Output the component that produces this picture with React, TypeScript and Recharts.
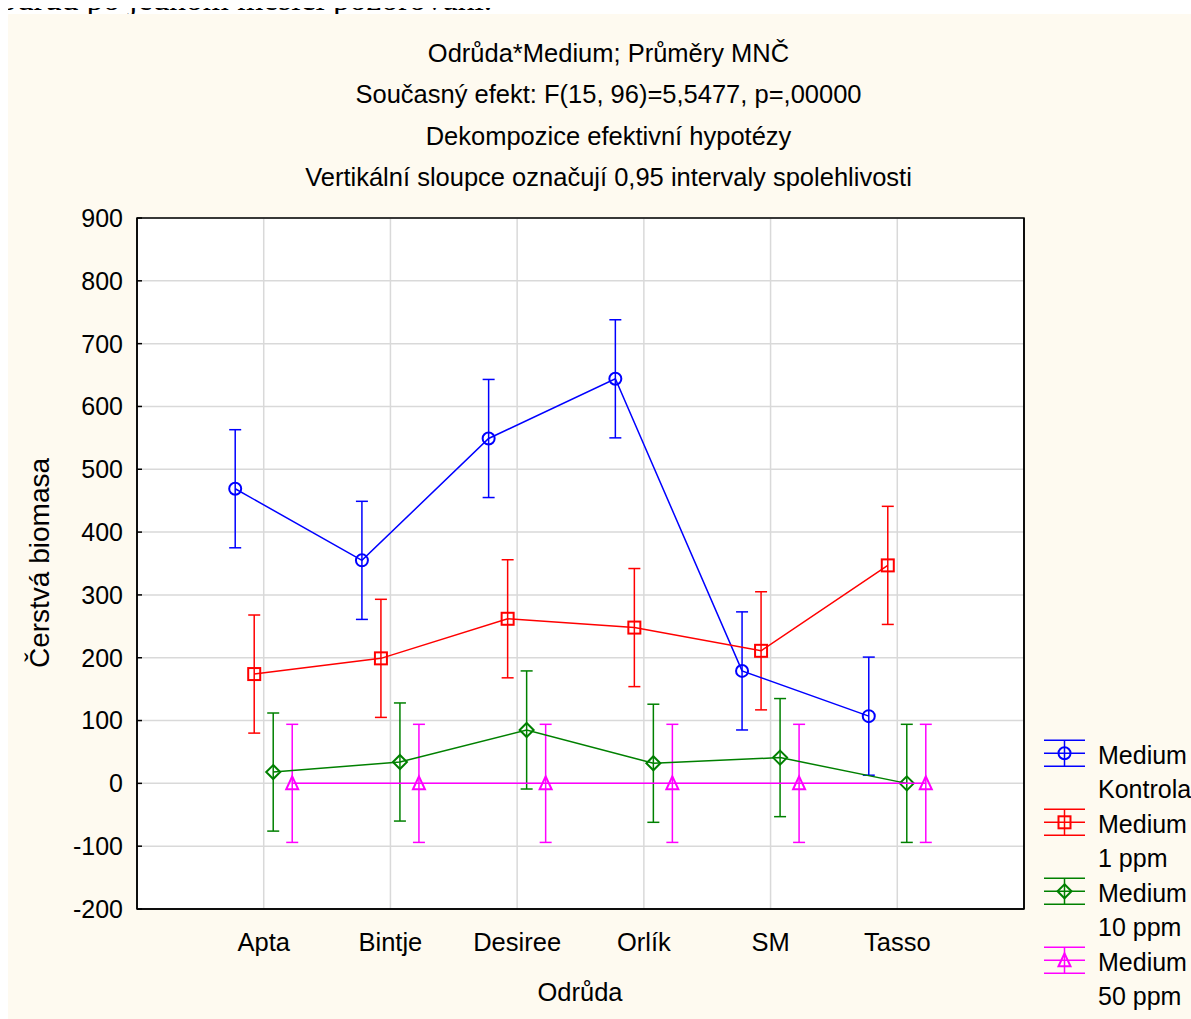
import React from 'react';
import { ScatterChart, Scatter, XAxis, YAxis, CartesianGrid, ErrorBar, ReferenceArea } from 'recharts';

const categories = ['Apta', 'Bintje', 'Desiree', 'Orlík', 'SM', 'Tasso'];
const kontrola = [469, 355, 549, 644, 179, 107];
const ppm1 = [174, 199, 262, 248, 211, 347];
const ppm10 = [18, 34, 85, 32, 41, 0];
const ppm50 = [0, 0, 0, 0, 0, 0];
const ciHalfWidth = 94;
const yTicks = [-200, -100, 0, 100, 200, 300, 400, 500, 600, 700, 800, 900];
const xTicks = [1, 2, 3, 4, 5, 6];
const titleLines = [
  'Odrůda*Medium; Průměry MNČ',
  'Současný efekt: F(15, 96)=5,5477, p=,00000',
  'Dekompozice efektivní hypotézy',
  'Vertikální sloupce označují 0,95 intervaly spolehlivosti',
];
const legendLabels = [
  ['Medium', 'Kontrola'],
  ['Medium', '1 ppm'],
  ['Medium', '10 ppm'],
  ['Medium', '50 ppm'],
];
const xLabel = 'Odrůda';
const yLabel = 'Čerstvá biomasa';
const topText = 'odrůd po jednom měsíci pozorování.';

const FONT = '"Liberation Sans", Arial, sans-serif';
const W = 1183;
const H = 1005;

type MarkerType = 'circle' | 'square' | 'diamond' | 'triangle';

const series: { values: number[]; color: string; marker: MarkerType; offset: number }[] = [
  { values: kontrola, color: '#0000FF', marker: 'circle', offset: -0.225 },
  { values: ppm1, color: '#FF0000', marker: 'square', offset: -0.075 },
  { values: ppm10, color: '#008000', marker: 'diamond', offset: 0.075 },
  { values: ppm50, color: '#FF00FF', marker: 'triangle', offset: 0.225 },
];

function Marker({ type, cx, cy, color }: { type: MarkerType; cx: number; cy: number; color: string }) {
  const common = { fill: 'none', stroke: color, strokeWidth: 2 };
  if (type === 'circle') return <circle cx={cx} cy={cy} r={6} {...common} />;
  if (type === 'square') return <rect x={cx - 6} y={cy - 6} width={12} height={12} {...common} />;
  if (type === 'diamond')
    return <polygon points={`${cx},${cy - 7} ${cx + 7},${cy} ${cx},${cy + 7} ${cx - 7},${cy}`} {...common} />;
  return <polygon points={`${cx},${cy - 7} ${cx + 6},${cy + 6} ${cx - 6},${cy + 6}`} {...common} />;
}

export default function App() {
  return (
    <div>
      <style>{`html{overflow:hidden} body{margin:8px 0 0 8px}`}</style>
      <div style={{ position: 'relative', marginLeft: -8, marginTop: -8, height: 14, overflow: 'hidden' }}>
        <svg width={1191} height={14} style={{ display: 'block' }}>
          <text x={0} y={10} fontFamily='"Liberation Serif", "Times New Roman", serif' fontSize={33.5} fill="#000">
            {topText}
          </text>
        </svg>
      </div>
      <div style={{ position: 'relative', width: W, height: H, background: '#FEFAF0' }}>
        <ScatterChart width={W} height={H} margin={{ top: 204, right: 166, bottom: 60, left: 29 }}>
          <CartesianGrid fill="#FFFFFF" stroke="#D9D9D9" strokeWidth={1.5} />
          <XAxis
            type="number"
            dataKey="x"
            domain={[0, 7]}
            ticks={xTicks}
            tickFormatter={(v: number) => categories[v - 1] ?? ''}
            tickLine={false}
            tickSize={6}
            tickMargin={18}
            height={50}
            axisLine={{ stroke: '#000', strokeWidth: 1.5 }}
            tick={{ fill: '#000', fontSize: 25.5, fontFamily: FONT }}
            allowDataOverflow
          />
          <YAxis
            type="number"
            dataKey="y"
            domain={[-200, 900]}
            ticks={yTicks}
            width={100}
            tickSize={-5}
            tickMargin={19}
            tickLine={{ stroke: '#000', strokeWidth: 1.5 }}
            axisLine={{ stroke: '#000', strokeWidth: 1.5 }}
            tick={{ fill: '#000', fontSize: 25, fontFamily: FONT }}
            allowDataOverflow
          />
          <YAxis
            yAxisId="right"
            orientation="right"
            type="number"
            domain={[-200, 900]}
            ticks={yTicks}
            width={1}
            tickSize={-5}
            tick={false}
            tickLine={{ stroke: '#000', strokeWidth: 1.5 }}
            axisLine={{ stroke: '#000', strokeWidth: 1.5 }}
            allowDataOverflow
          />
          <ReferenceArea x1={0} x2={7} y1={-200} y2={900} fill="none" stroke="#000" strokeWidth={1.5} />
          {series.map((s, si) => (
            <Scatter
              key={si}
              data={categories.map((c, i) => ({ x: i + 1 + s.offset, y: s.values[i], err: ciHalfWidth, name: c }))}
              line={{ stroke: s.color, strokeWidth: 1.5 }}
              lineType="joint"
              isAnimationActive={false}
              shape={(p: any) => <Marker type={s.marker} cx={p.cx} cy={p.cy} color={s.color} />}
            >
              <ErrorBar dataKey="err" direction="y" width={6} stroke={s.color} strokeWidth={1.5} isAnimationActive={false} />
            </Scatter>
          ))}
        </ScatterChart>
        <svg
          width={W}
          height={H}
          style={{ position: 'absolute', left: 0, top: 0, pointerEvents: 'none' }}
          fontFamily={FONT}
        >
          {titleLines.map((t, i) => (
            <text key={i} x={600.5} y={47.5 + i * 41.5} textAnchor="middle" fontSize={25.5} fill="#000">
              {t}
            </text>
          ))}
          <text x={572} y={987} textAnchor="middle" fontSize={25.5} fill="#000">
            {xLabel}
          </text>
          <text x={41} y={549} textAnchor="middle" fontSize={28} fill="#000" transform="rotate(-90 41 549)">
            {yLabel}
          </text>
          {series.map((s, i) => {
            const cy = 739.3 + i * 69;
            const cx = 1056.5;
            return (
              <g key={i}>
                <line x1={1036} x2={1077} y1={cy - 13} y2={cy - 13} stroke={s.color} strokeWidth={1.5} />
                <line x1={1036} x2={1077} y1={cy} y2={cy} stroke={s.color} strokeWidth={1.5} />
                <line x1={1036} x2={1077} y1={cy + 13} y2={cy + 13} stroke={s.color} strokeWidth={1.5} />
                <line x1={cx} x2={cx} y1={cy - 13} y2={cy + 13} stroke={s.color} strokeWidth={1.5} />
                <Marker type={s.marker} cx={cx} cy={cy} color={s.color} />
                <text x={1090} y={750 + i * 69} fontSize={25} fill="#000">
                  {legendLabels[i][0]}
                </text>
                <text x={1090} y={784 + i * 69} fontSize={25} fill="#000">
                  {legendLabels[i][1]}
                </text>
              </g>
            );
          })}
        </svg>
      </div>
    </div>
  );
}
